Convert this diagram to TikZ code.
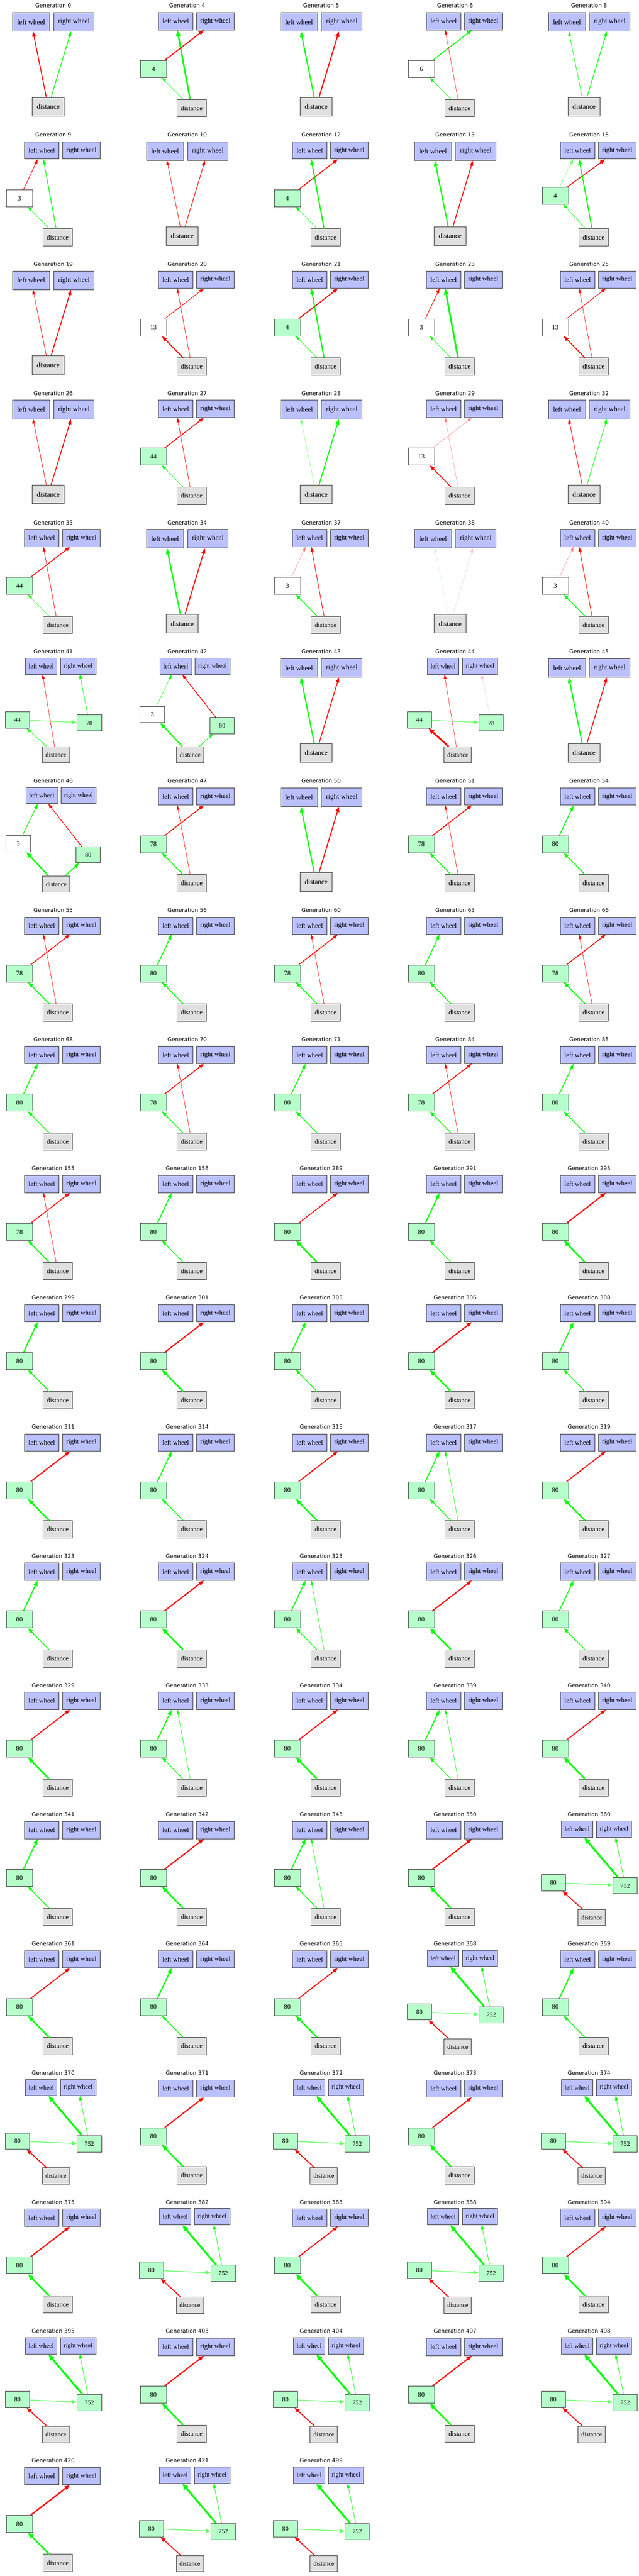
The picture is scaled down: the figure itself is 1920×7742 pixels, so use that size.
\documentclass[tikz,border=0pt]{standalone}
\usepackage{fontspec}
\setmainfont{Liberation Serif}
\newfontfamily\ttlfont{DejaVu Sans}
\usetikzlibrary{arrows.meta}
\definecolor{colOut}{RGB}{187,192,255}
\definecolor{colHid}{RGB}{182,255,202}
\definecolor{colIn}{RGB}{224,224,224}
\definecolor{rd}{RGB}{255,0,0}
\definecolor{gn}{RGB}{0,255,0}
\definecolor{lgn}{RGB}{100,255,100}
\definecolor{lrd}{RGB}{255,120,120}
\definecolor{llgn}{RGB}{190,255,190}
\definecolor{llrd}{RGB}{255,190,190}
\tikzset{
  nb/.style={draw=black!75, line width=1.3pt, inner sep=0pt, rectangle},
  fOut/.style={fill=colOut},
  fIn/.style={fill=colIn},
  hidg/.style={fill=colHid},
  hidw/.style={fill=white},
  fsA/.style={font=\fontsize{21}{24}\selectfont},
  fsB/.style={font=\fontsize{20}{23}\selectfont},
  fsC/.style={font=\fontsize{19}{22}\selectfont},
  ttl/.style={font=\ttlfont\fontsize{16.5}{19}\selectfont, inner sep=0pt},
  arr/.style={-{Triangle[length=12pt 1.2,width=8pt 1.2]}}
}
% T0: outputs + distance
\newcommand{\genA}[4]{%
\begin{scope}[shift={({160+402.5*#2},{388.3*#3})}]
\node[ttl] (#1t) at (0,17) {Generation #4};
\node[nb,fOut,fsA,minimum width=111pt,minimum height=56pt] (#1l) at (-66.5,66) {left wheel};
\node[nb,fOut,fsA,minimum width=122pt,minimum height=56pt] (#1r) at (62,66) {right wheel};
\node[nb,fIn,fsA,minimum width=96pt,minimum height=56pt] (#1d) at (-15,321) {distance};
\end{scope}}
% T1: one hidden node on the left
\newcommand{\genB}[7]{%
\begin{scope}[shift={({160+402.5*#2},{388.3*#3})}]
\node[ttl] (#1t) at (0,17) {Generation #4};
\node[nb,fOut,fsB,minimum width=103pt,minimum height=52pt] (#1l) at (-34.5,64) {left wheel};
\node[nb,fOut,fsB,minimum width=113pt,minimum height=52pt] (#1r) at (84.5,64) {right wheel};
\node[nb,#6,fsB,minimum width=79pt,minimum height=51pt] (#1h) at (-101.5,#7) {#5};
\node[nb,fIn,fsB,minimum width=89pt,minimum height=52pt] (#1d) at (13.5,325) {distance};
\end{scope}}
% T2: two hidden nodes, left high and right low (44/78, 80/752)
\newcommand{\genC}[8]{%
\begin{scope}[shift={({160+402.5*#2},{388.3*#3})}]
\node[ttl] (#1t) at (0,17) {Generation #4};
\node[nb,fOut,fsC,minimum width=95pt,minimum height=49pt] (#1l) at (-36,61) {left wheel};
\node[nb,fOut,fsC,minimum width=106pt,minimum height=49pt] (#1r) at (75,61) {right wheel};
\node[nb,#6,fsC,minimum width=73pt,minimum height=49pt] (#1a) at (-107.5,222) {#5};
\node[nb,#8,fsC,minimum width=73pt,minimum height=49pt] (#1b) at (108.5,231) {#7};
\node[nb,fIn,fsC,minimum width=82pt,minimum height=49pt] (#1d) at (8,327) {distance};
\end{scope}}
% T2b: two hidden nodes, left higher, right lower (3/80)
\newcommand{\genD}[8]{%
\begin{scope}[shift={({160+402.5*#2},{388.3*#3})}]
\node[ttl] (#1t) at (0,17) {Generation #4};
\node[nb,fOut,fsC,minimum width=96pt,minimum height=49pt] (#1l) at (-34.5,61) {left wheel};
\node[nb,fOut,fsC,minimum width=106pt,minimum height=49pt] (#1r) at (76,61) {right wheel};
\node[nb,#6,fsC,minimum width=74pt,minimum height=49pt] (#1a) at (-104.6,206) {#5};
\node[nb,#8,fsC,minimum width=73pt,minimum height=49pt] (#1b) at (105,239) {#7};
\node[nb,fIn,fsC,minimum width=82pt,minimum height=49pt] (#1d) at (9,327) {distance};
\end{scope}}
\newcommand{\edg}[4]{\draw[arr,draw=#3,fill=#3,line width=#4pt] (#1) -- (#2);}
\newcommand{\edgL}[3]{\edg{#1h}{#1l}{gn}{#2}\edg{#1d}{#1h}{gn}{#3}}
\newcommand{\edgR}[3]{\edg{#1h}{#1r}{rd}{#2}\edg{#1d}{#1h}{gn}{#3}}
\newcommand{\edgS}[2]{\edg{#1h}{#1r}{rd}{2.5}\edg{#1d}{#1l}{rd}{1}\edg{#1d}{#1h}{gn}{#2}}
\newcommand{\edgT}[1]{\edg{#1b}{#1l}{gn}{5.5}\edg{#1b}{#1r}{gn}{1.2}\edg{#1a}{#1b}{lgn}{2.2}\edg{#1d}{#1a}{rd}{2.8}}
\begin{document}
\begin{tikzpicture}[x=1pt,y=-1pt]
\fill[white] (0,0) rectangle (1920,7742);
\useasboundingbox (0,0) rectangle (1920,7742);
% Row 0
\genA{a0}{0}{0}{0}
\edg{a0d}{a0l}{rd}{2.5}\edg{a0d}{a0r}{gn}{2.2}
\genB{a4}{1}{0}{4}{4}{hidg}{207.5}
\edg{a4d}{a4l}{gn}{4.5}\edg{a4h}{a4r}{rd}{3}\edg{a4d}{a4h}{gn}{1}
\genA{a5}{2}{0}{5}
\edg{a5d}{a5l}{gn}{3.5}\edg{a5d}{a5r}{rd}{3.2}
\genB{a6}{3}{0}{6}{6}{hidw}{207.5}
\edg{a6h}{a6r}{gn}{2.5}\edg{a6d}{a6l}{rd}{0.8}\edg{a6d}{a6h}{gn}{1.5}
\genA{a8}{4}{0}{8}
\edg{a8d}{a8l}{gn}{1.2}\edg{a8d}{a8r}{gn}{2}
% Row 1
\genB{a9}{0}{1}{9}{3}{hidw}{207.5}
\edg{a9h}{a9l}{rd}{1.5}\edg{a9d}{a9h}{gn}{1}\edg{a9d}{a9l}{gn}{2}
\genA{a10}{1}{1}{10}
\edg{a10d}{a10l}{rd}{1.2}\edg{a10d}{a10r}{rd}{1.6}
\genB{a12}{2}{1}{12}{4}{hidg}{207.5}
\edg{a12d}{a12l}{gn}{3.5}\edg{a12h}{a12r}{rd}{2.5}\edg{a12d}{a12h}{gn}{1}
\genA{a13}{3}{1}{13}
\edg{a13d}{a13l}{gn}{3.5}\edg{a13d}{a13r}{rd}{2.5}
\genB{a15}{4}{1}{15}{4}{hidg}{200}
\edg{a15h}{a15l}{lgn}{0.7}\edg{a15h}{a15r}{rd}{2.5}\edg{a15d}{a15h}{gn}{1}\edg{a15d}{a15l}{gn}{3}
% Row 2
\genA{a19}{0}{2}{19}
\edg{a19d}{a19l}{rd}{1.2}\edg{a19d}{a19r}{rd}{2.5}
\genB{a20}{1}{2}{20}{13}{hidw}{207.5}
\edg{a20h}{a20r}{rd}{1.5}\edg{a20d}{a20l}{rd}{1.1}\edg{a20d}{a20h}{rd}{3}
\genB{a21}{2}{2}{21}{4}{hidg}{207.5}
\edg{a21d}{a21l}{gn}{3.5}\edg{a21h}{a21r}{rd}{3}\edg{a21d}{a21h}{gn}{1}
\genB{a23}{3}{2}{23}{3}{hidw}{207.5}
\edg{a23h}{a23l}{rd}{1.5}\edg{a23d}{a23l}{gn}{5}\edg{a23d}{a23h}{gn}{1}
\genB{a25}{4}{2}{25}{13}{hidw}{207.5}
\edg{a25h}{a25r}{rd}{1.5}\edg{a25d}{a25l}{rd}{1}\edg{a25d}{a25h}{rd}{2.5}
% Row 3
\genA{a26}{0}{3}{26}
\edg{a26d}{a26l}{rd}{1.2}\edg{a26d}{a26r}{rd}{2.5}
\genB{a27}{1}{3}{27}{44}{hidg}{207.5}
\edg{a27h}{a27r}{rd}{2.5}\edg{a27d}{a27l}{rd}{1.2}\edg{a27d}{a27h}{gn}{1}
\genA{a28}{2}{3}{28}
\edg{a28d}{a28l}{lgn}{0.7}\edg{a28d}{a28r}{gn}{3}
\genB{a29}{3}{3}{29}{13}{hidw}{207.5}
\edg{a29h}{a29r}{lrd}{0.7}\edg{a29d}{a29l}{lrd}{0.6}\edg{a29d}{a29h}{rd}{2.5}
\genA{a32}{4}{3}{32}
\edg{a32d}{a32l}{rd}{1.5}\edg{a32d}{a32r}{gn}{1.5}
% Row 4
\genB{a33}{0}{4}{33}{44}{hidg}{207.5}
\edg{a33h}{a33r}{rd}{2.5}\edg{a33d}{a33l}{rd}{1.2}\edg{a33d}{a33h}{gn}{1}
\genA{a34}{1}{4}{34}
\edg{a34d}{a34l}{gn}{4}\edg{a34d}{a34r}{rd}{3}
\genB{a37}{2}{4}{37}{3}{hidw}{207.5}
\edg{a37h}{a37l}{lrd}{0.7}\edg{a37d}{a37l}{rd}{1.5}\edg{a37d}{a37h}{gn}{2.5}
\genA{a38}{3}{4}{38}
\edg{a38d}{a38l}{llgn}{0.5}\edg{a38d}{a38r}{llrd}{0.5}
\genB{a40}{4}{4}{40}{3}{hidw}{207.5}
\edg{a40h}{a40l}{lrd}{0.6}\edg{a40d}{a40l}{rd}{1.5}\edg{a40d}{a40h}{gn}{2.5}
% Row 5
\genC{a41}{0}{5}{41}{44}{hidg}{78}{hidg}
\edg{a41d}{a41l}{rd}{1}\edg{a41b}{a41r}{gn}{1.2}\edg{a41a}{a41b}{lgn}{2}\edg{a41d}{a41a}{gn}{1.2}
\genD{a42}{1}{5}{42}{3}{hidw}{80}{hidg}
\edg{a42a}{a42l}{gn}{0.8}\edg{a42b}{a42l}{rd}{2}\edg{a42d}{a42a}{gn}{3.5}\edg{a42d}{a42b}{gn}{1.5}
\genA{a43}{2}{5}{43}
\edg{a43d}{a43l}{gn}{3.5}\edg{a43d}{a43r}{rd}{2.5}
\genC{a44}{3}{5}{44}{44}{hidg}{78}{hidg}
\edg{a44d}{a44l}{rd}{0.8}\edg{a44b}{a44r}{llrd}{0.5}\edg{a44a}{a44b}{lgn}{2}\edg{a44d}{a44a}{rd}{5}
\genA{a45}{4}{5}{45}
\edg{a45d}{a45l}{gn}{3.5}\edg{a45d}{a45r}{rd}{2.5}
% Row 6
\genD{a46}{0}{6}{46}{3}{hidw}{80}{hidg}
\edg{a46a}{a46l}{gn}{1.8}\edg{a46b}{a46l}{rd}{1.8}\edg{a46d}{a46a}{gn}{4}\edg{a46d}{a46b}{gn}{3}
\genB{a47}{1}{6}{47}{78}{hidg}{207.5}
\edgS{a47}{2.5}
\genA{a50}{2}{6}{50}
\edg{a50d}{a50l}{gn}{3.5}\edg{a50d}{a50r}{rd}{3}
\genB{a51}{3}{6}{51}{78}{hidg}{207.5}
\edgS{a51}{2.5}
\genB{a54}{4}{6}{54}{80}{hidg}{207.5}
\edgL{a54}{2.5}{2.5}
% Row 7
\genB{a55}{0}{7}{55}{78}{hidg}{207.5}
\edgS{a55}{3}
\genB{a56}{1}{7}{56}{80}{hidg}{207.5}
\edgL{a56}{2.5}{2.5}
\genB{a60}{2}{7}{60}{78}{hidg}{207.5}
\edgS{a60}{2.5}
\genB{a63}{3}{7}{63}{80}{hidg}{207.5}
\edgL{a63}{2.5}{2.5}
\genB{a66}{4}{7}{66}{78}{hidg}{207.5}
\edgS{a66}{3}
% Row 8
\genB{a68}{0}{8}{68}{80}{hidg}{207.5}
\edgL{a68}{2.5}{2.5}
\genB{a70}{1}{8}{70}{78}{hidg}{207.5}
\edgS{a70}{2.5}
\genB{a71}{2}{8}{71}{80}{hidg}{207.5}
\edgL{a71}{2.5}{2.5}
\genB{a84}{3}{8}{84}{78}{hidg}{207.5}
\edgS{a84}{2.5}
\genB{a85}{4}{8}{85}{80}{hidg}{207.5}
\edgL{a85}{2.5}{2.5}
% Row 9
\genB{a155}{0}{9}{155}{78}{hidg}{207.5}
\edgS{a155}{3}
\genB{a156}{1}{9}{156}{80}{hidg}{207.5}
\edgL{a156}{3}{2}
\genB{a289}{2}{9}{289}{80}{hidg}{207.5}
\edgR{a289}{2.5}{4.5}
\genB{a291}{3}{9}{291}{80}{hidg}{207.5}
\edgL{a291}{3.5}{2}
\genB{a295}{4}{9}{295}{80}{hidg}{207.5}
\edgR{a295}{3.5}{4.5}
% Row 10
\genB{a299}{0}{10}{299}{80}{hidg}{207.5}
\edgL{a299}{3.5}{2.5}
\genB{a301}{1}{10}{301}{80}{hidg}{207.5}
\edgR{a301}{3.5}{4.5}
\genB{a305}{2}{10}{305}{80}{hidg}{207.5}
\edgL{a305}{3}{2}
\genB{a306}{3}{10}{306}{80}{hidg}{207.5}
\edgR{a306}{3.5}{4.5}
\genB{a308}{4}{10}{308}{80}{hidg}{207.5}
\edgL{a308}{3}{2}
% Row 11
\genB{a311}{0}{11}{311}{80}{hidg}{207.5}
\edgR{a311}{3.5}{4.5}
\genB{a314}{1}{11}{314}{80}{hidg}{207.5}
\edgL{a314}{3}{2}
\genB{a315}{2}{11}{315}{80}{hidg}{207.5}
\edgR{a315}{3}{4.5}
\genB{a317}{3}{11}{317}{80}{hidg}{207.5}
\edgL{a317}{3}{2}\edg{a317d}{a317l}{gn}{1}
\genB{a319}{4}{11}{319}{80}{hidg}{207.5}
\edgR{a319}{3}{4.5}
% Row 12
\genB{a323}{0}{12}{323}{80}{hidg}{207.5}
\edgL{a323}{3.5}{2.5}
\genB{a324}{1}{12}{324}{80}{hidg}{207.5}
\edgR{a324}{3.5}{4.5}
\genB{a325}{2}{12}{325}{80}{hidg}{207.5}
\edgL{a325}{3}{2}\edg{a325d}{a325l}{gn}{1}
\genB{a326}{3}{12}{326}{80}{hidg}{207.5}
\edgR{a326}{3.5}{4.5}
\genB{a327}{4}{12}{327}{80}{hidg}{207.5}
\edgL{a327}{3}{2}
% Row 13
\genB{a329}{0}{13}{329}{80}{hidg}{207.5}
\edgR{a329}{3}{4.5}
\genB{a333}{1}{13}{333}{80}{hidg}{207.5}
\edgL{a333}{3}{2}\edg{a333d}{a333l}{gn}{1}
\genB{a334}{2}{13}{334}{80}{hidg}{207.5}
\edgR{a334}{3}{4.5}
\genB{a339}{3}{13}{339}{80}{hidg}{207.5}
\edgL{a339}{3}{2}\edg{a339d}{a339l}{gn}{1}
\genB{a340}{4}{13}{340}{80}{hidg}{207.5}
\edgR{a340}{3}{4.5}
% Row 14
\genB{a341}{0}{14}{341}{80}{hidg}{207.5}
\edgL{a341}{3.5}{2}
\genB{a342}{1}{14}{342}{80}{hidg}{207.5}
\edgR{a342}{3.5}{4.5}
\genB{a345}{2}{14}{345}{80}{hidg}{207.5}
\edgL{a345}{3}{2}\edg{a345d}{a345l}{gn}{1}
\genB{a350}{3}{14}{350}{80}{hidg}{207.5}
\edgR{a350}{3.5}{4.5}
\genC{a360}{4}{14}{360}{80}{hidg}{752}{hidg}
\edgT{a360}
% Row 15
\genB{a361}{0}{15}{361}{80}{hidg}{207.5}
\edgR{a361}{3}{4.5}
\genB{a364}{1}{15}{364}{80}{hidg}{207.5}
\edgL{a364}{3.5}{2}
\genB{a365}{2}{15}{365}{80}{hidg}{207.5}
\edgR{a365}{3}{4.5}
\genC{a368}{3}{15}{368}{80}{hidg}{752}{hidg}
\edgT{a368}
\genB{a369}{4}{15}{369}{80}{hidg}{207.5}
\edgL{a369}{3.5}{2}
% Row 16
\genC{a370}{0}{16}{370}{80}{hidg}{752}{hidg}
\edgT{a370}
\genB{a371}{1}{16}{371}{80}{hidg}{207.5}
\edgR{a371}{3.5}{4.5}
\genC{a372}{2}{16}{372}{80}{hidg}{752}{hidg}
\edgT{a372}
\genB{a373}{3}{16}{373}{80}{hidg}{207.5}
\edgR{a373}{3.5}{4.5}
\genC{a374}{4}{16}{374}{80}{hidg}{752}{hidg}
\edgT{a374}
% Row 17
\genB{a375}{0}{17}{375}{80}{hidg}{207.5}
\edgR{a375}{3.5}{4.5}
\genC{a382}{1}{17}{382}{80}{hidg}{752}{hidg}
\edgT{a382}
\genB{a383}{2}{17}{383}{80}{hidg}{207.5}
\edgR{a383}{3}{4.5}
\genC{a388}{3}{17}{388}{80}{hidg}{752}{hidg}
\edgT{a388}
\genB{a394}{4}{17}{394}{80}{hidg}{207.5}
\edgR{a394}{3}{4.5}
% Row 18
\genC{a395}{0}{18}{395}{80}{hidg}{752}{hidg}
\edgT{a395}
\genB{a403}{1}{18}{403}{80}{hidg}{207.5}
\edgR{a403}{3.5}{4.5}
\genC{a404}{2}{18}{404}{80}{hidg}{752}{hidg}
\edgT{a404}
\genB{a407}{3}{18}{407}{80}{hidg}{207.5}
\edgR{a407}{3.5}{4.5}
\genC{a408}{4}{18}{408}{80}{hidg}{752}{hidg}
\edgT{a408}
% Row 19
\genB{a420}{0}{19}{420}{80}{hidg}{207.5}
\edgR{a420}{4}{4.5}
\genC{a421}{1}{19}{421}{80}{hidg}{752}{hidg}
\edgT{a421}
\genC{a499}{2}{19}{499}{80}{hidg}{752}{hidg}
\edgT{a499}
\end{tikzpicture}
\end{document}
